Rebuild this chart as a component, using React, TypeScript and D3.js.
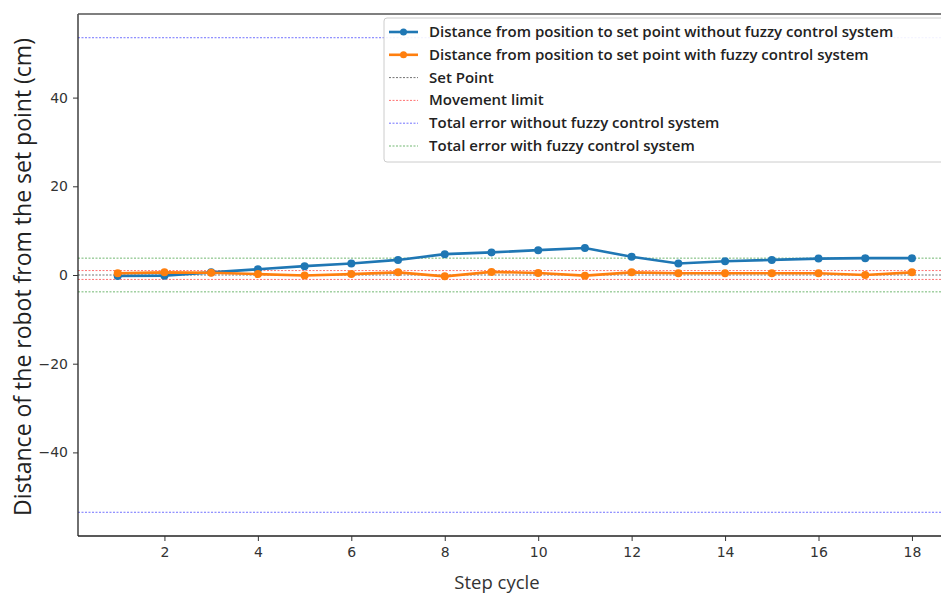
import React, { useEffect, useRef } from 'react'
import * as d3 from 'd3'

// step cycles
const steps = [1, 2, 3, 4, 5, 6, 7, 8, 9, 10, 11, 12, 13, 14, 15, 16, 17, 18]
// distance to set point, no fuzzy control (cm)
const withoutFuzzy = [-0.2, -0.15, 0.6, 1.3, 2.0, 2.6, 3.4, 4.7, 5.1, 5.6, 6.1, 4.1, 2.6, 3.1, 3.4, 3.7, 3.8, 3.8]
// distance to set point, with fuzzy control (cm)
const withFuzzy = [0.4, 0.6, 0.5, 0.2, -0.1, 0.2, 0.6, -0.3, 0.7, 0.45, -0.15, 0.6, 0.4, 0.4, 0.4, 0.4, 0.0, 0.6]

const setPoint = 0
const movementLimit = 1
const totalErrorWithout = 53.5
const totalErrorWith = 3.8

const xTicks = [2, 4, 6, 8, 10, 12, 14, 16, 18]
const yTicks = [-40, -20, 0, 20, 40]

const legendLabels = [
  'Distance from position to set point without fuzzy control system',
  'Distance from position to set point with fuzzy control system',
  'Set Point',
  'Movement limit',
  'Total error without fuzzy control system',
  'Total error with fuzzy control system',
]

export default function App() {
  const ref = useRef<SVGSVGElement>(null)

  useEffect(() => {
    const svg = d3.select(ref.current)
    svg.selectAll('*').remove()

    const left = 78, top = 14, bottom = 536
    // axes run off the right edge of the picture, like the original
    const x = d3.scaleLinear().domain([0.15, 18.85]).range([left, left + (18.85 - 0.15) * 46.72])
    const y = d3.scaleLinear().domain([-58.85, 58.85]).range([bottom, top])
    const right = x(18.85)

    const tickFont = 'DejaVu Sans, sans-serif'

    // reference lines
    const refLines = [
      { v: totalErrorWithout, c: 'blue' }, { v: -totalErrorWithout, c: 'blue' },
      { v: totalErrorWith, c: 'green' }, { v: -totalErrorWith, c: 'green' },
      { v: movementLimit, c: 'red' }, { v: -movementLimit, c: 'red' },
      { v: setPoint, c: 'black' },
    ]
    svg.append('g').selectAll('line')
      .data(refLines)
      .enter().append('line')
      .attr('x1', left).attr('x2', right)
      .attr('y1', d => y(d.v)).attr('y2', d => y(d.v))
      .attr('stroke', d => d.c)
      .attr('stroke-width', 0.8)
      .attr('stroke-opacity', 0.7)
      .attr('stroke-dasharray', '2,1.5')

    const line = d3.line<number>()
      .x((d, i) => x(steps[i]))
      .y(d => y(d))

    const series = [
      { data: withoutFuzzy, color: '#1f77b4' },
      { data: withFuzzy, color: '#ff7f0e' },
    ]
    series.forEach(s => {
      svg.append('path')
        .datum(s.data)
        .attr('d', line)
        .attr('fill', 'none')
        .attr('stroke', s.color)
        .attr('stroke-width', 2.6)
      svg.append('g').selectAll('circle')
        .data(s.data)
        .enter().append('circle')
        .attr('cx', (d, i) => x(steps[i]))
        .attr('cy', d => y(d))
        .attr('r', 4)
        .attr('fill', s.color)
    })

    // spines
    svg.append('line').attr('x1', left).attr('x2', left).attr('y1', top).attr('y2', bottom)
      .attr('stroke', '#222').attr('stroke-width', 1.3)
    svg.append('line').attr('x1', left).attr('x2', right).attr('y1', bottom).attr('y2', bottom)
      .attr('stroke', '#222').attr('stroke-width', 1.3)
    svg.append('line').attr('x1', left).attr('x2', right).attr('y1', top).attr('y2', top)
      .attr('stroke', '#555').attr('stroke-width', 1.3)

    // x axis
    const xAxis = svg.append('g')
      .attr('transform', 'translate(0,' + bottom + ')')
      .call(d3.axisBottom(x).tickValues(xTicks).tickSize(5).tickPadding(6).tickFormat(d3.format('d')))
    xAxis.select('.domain').remove()
    xAxis.selectAll('text').attr('font-family', tickFont).attr('font-size', 14).attr('fill', '#333')
    xAxis.selectAll('line').attr('stroke', '#333')

    // y axis
    const yAxis = svg.append('g')
      .attr('transform', 'translate(' + left + ',0)')
      .call(d3.axisLeft(y).tickValues(yTicks).tickSize(5).tickPadding(5).tickFormat(d3.format('d')))
    yAxis.select('.domain').remove()
    yAxis.selectAll('text').attr('font-family', tickFont).attr('font-size', 14).attr('fill', '#333')
    yAxis.selectAll('line').attr('stroke', '#333')

    // axis labels
    svg.append('text')
      .attr('x', 497).attr('y', 589)
      .attr('text-anchor', 'middle')
      .attr('font-family', 'Open Sans, sans-serif')
      .attr('font-size', 18.5)
      .attr('fill', '#333')
      .text('Step cycle')

    svg.append('text')
      .attr('transform', 'translate(31,' + 277 + ') rotate(-90)')
      .attr('text-anchor', 'middle')
      .attr('font-family', 'Open Sans, sans-serif')
      .attr('font-size', 23)
      .attr('fill', '#222')
      .text('Distance of the robot from the set point (cm)')

    // legend
    const lg = svg.append('g')
    lg.append('rect')
      .attr('x', 384).attr('y', 18)
      .attr('width', 600).attr('height', 144)
      .attr('rx', 3)
      .attr('fill', 'white').attr('fill-opacity', 0.9)
      .attr('stroke', '#ccc')

    const handles = [
      { c: '#1f77b4', w: 2.6, dash: null, marker: true },
      { c: '#ff7f0e', w: 2.6, dash: null, marker: true },
      { c: 'black', w: 0.8, dash: '2,1.5', marker: false },
      { c: 'red', w: 0.8, dash: '2,1.5', marker: false },
      { c: 'blue', w: 0.8, dash: '2,1.5', marker: false },
      { c: 'green', w: 0.8, dash: '2,1.5', marker: false },
    ]
    const rowY = d3.scaleLinear().domain([0, 5]).range([32, 146])
    legendLabels.forEach((label, i) => {
      const h = handles[i]
      const yy = rowY(i)
      const l = lg.append('line')
        .attr('x1', 389).attr('x2', 418)
        .attr('y1', yy).attr('y2', yy)
        .attr('stroke', h.c).attr('stroke-width', h.w)
        .attr('stroke-opacity', h.marker ? 1 : 0.7)
      if (h.dash) l.attr('stroke-dasharray', h.dash)
      if (h.marker) {
        lg.append('circle').attr('cx', 403.5).attr('cy', yy).attr('r', 3.5).attr('fill', h.c)
      }
      lg.append('text')
        .attr('x', 429).attr('y', yy + 5)
        .attr('font-family', 'Open Sans, sans-serif')
        .attr('font-size', 15)
        .attr('font-weight', 600)
        .attr('fill', '#222')
        .text(label)
    })
  }, [])

  return (
    <svg ref={ref} width={941} height={595}
      style={{ position: 'absolute', left: 0, top: 0, background: 'white' }} />
  )
}
